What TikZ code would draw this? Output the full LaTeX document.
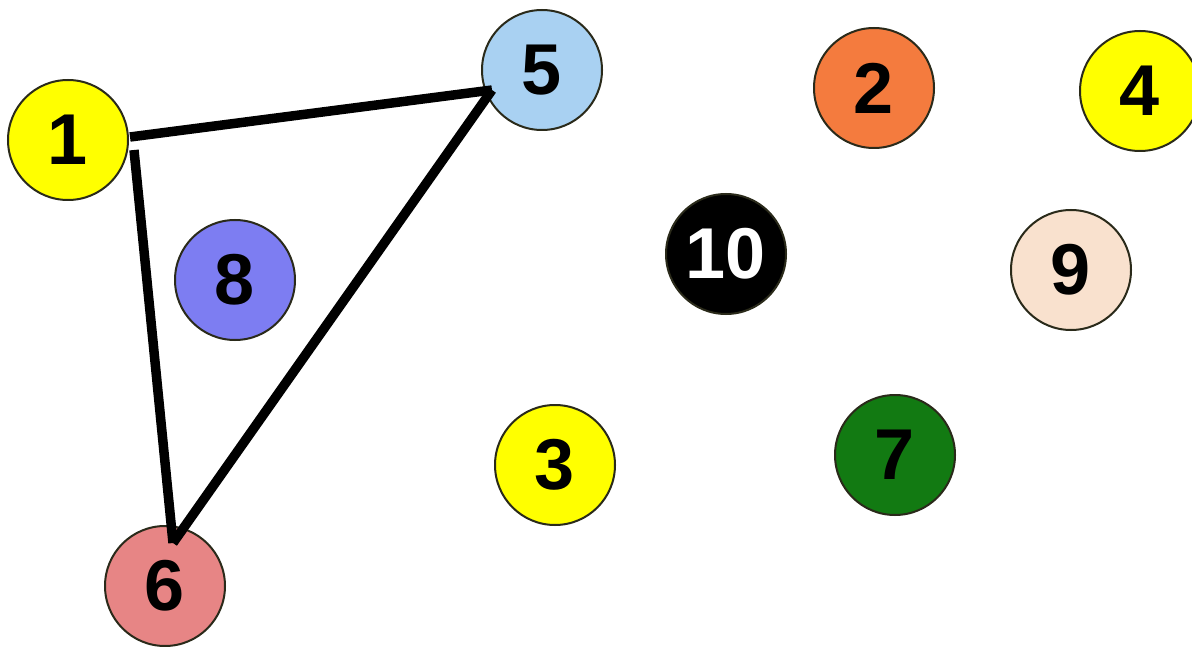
\documentclass[tikz,border=0pt]{standalone}
\usepackage{fontspec}
\setmainfont{Liberation Sans}
\usetikzlibrary{calc}
\definecolor{cyel}{HTML}{FFFF00}
\definecolor{cblue}{HTML}{A9D1F2}
\definecolor{corange}{HTML}{F47B3E}
\definecolor{cperi}{HTML}{7D7DF2}
\definecolor{cpeach}{HTML}{F9E1CE}
\definecolor{cgreen}{HTML}{127A12}
\definecolor{cpink}{HTML}{E78585}
\definecolor{cedge}{HTML}{2A2A1A}
\begin{document}
\begin{tikzpicture}[x=1pt,y=-1pt,
  ball/.style={circle,draw=cedge,line width=2pt,minimum size=120pt,inner sep=0pt,
    font=\fontsize{72}{72}\selectfont\bfseries},
  link/.style={line width=9.5pt,black}]
\useasboundingbox (0,0) rectangle (1192,647);
\fill[white] (0,0) rectangle (1192,647);
\node[ball,fill=cyel]    (n1)  at (68,140)   {1};
\node[ball,fill=cblue]   (n5)  at (542,70)   {5};
\node[ball,fill=corange] (n2)  at (874,88)   {2};
\node[ball,fill=cyel]    (n4)  at (1140,91)  {4};
\node[ball,fill=black,text=white] (n10) at (726,254) {10};
\node[ball,fill=cpeach]  (n9)  at (1071,270) {9};
\node[ball,fill=cperi]   (n8)  at (235,280)  {8};
\node[ball,fill=cyel]    (n3)  at (555,465)  {3};
\node[ball,fill=cgreen]  (n7)  at (895,455)  {7};
\node[ball,fill=cpink]   (n6)  at (165,586)  {6};
\draw[link] ($(n1)+(62,-3)$) -- ($(n5)+(-50,20)$);
\draw[link] ($(n1)+(66,10)$) -- ($(n6)+(8,-43)$);
\draw[link] ($(n6)+(8,-43)$) -- ($(n5)+(-50,20)$);
\end{tikzpicture}
\end{document}
